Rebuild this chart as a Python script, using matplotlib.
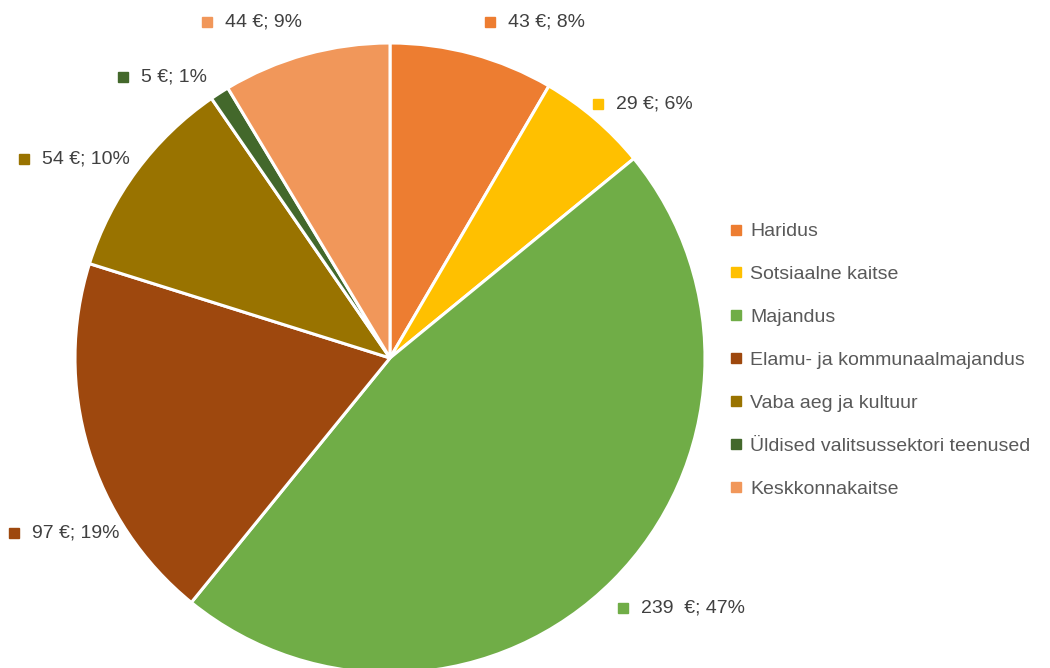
import matplotlib
matplotlib.use("Agg")
import matplotlib.pyplot as plt
from matplotlib.lines import Line2D

# data
categories = [
    "Haridus",
    "Sotsiaalne kaitse",
    "Majandus",
    "Elamu- ja kommunaalmajandus",
    "Vaba aeg ja kultuur",
    "Üldised valitsussektori teenused",
    "Keskkonnakaitse",
]
values = [43, 29, 239, 97, 54, 5, 44]
label_texts = ["43 €; 8%", "29 €; 6%", "239  €; 47%", "97 €; 19%",
               "54 €; 10%", "5 €; 1%", "44 €; 9%"]
colors = ["#ED7D31", "#FFC000", "#70AD47", "#9E480E",
          "#997300", "#43682B", "#F1975A"]

# layout of data labels (marker position, in pie-radius units)
label_pos = [(0.317, 1.067), (0.660, 0.806), (0.740, -0.794), (-1.194, -0.556),
             (-1.162, 0.632), (-0.848, 0.892), (-0.581, 1.067)]

plt.rcParams["font.family"] = ["Liberation Sans", "DejaVu Sans"]

W, H = 1050, 668
fig = plt.figure(figsize=(W / 100, H / 100), dpi=100)
cx, cy, r = 390, 358, 315
ax = fig.add_axes([(cx - r) / W, (H - cy - r) / H, 2 * r / W, 2 * r / H])

wedges, _ = ax.pie(values, colors=colors, startangle=90, counterclock=False,
                   radius=1, wedgeprops=dict(edgecolor="white", linewidth=2.2))
for w in wedges:
    w.set_clip_on(False)

ax.set_xlim(-1, 1)
ax.set_ylim(-1, 1)
ax.set_aspect("equal")
ax.axis("off")

txt_gap = 18 / r
for (x, y), t, c in zip(label_pos, label_texts, colors):
    ax.plot([x], [y], marker="s", markersize=6.5, color=c, clip_on=False)
    ax.text(x + txt_gap, y, t, ha="left", va="center", fontsize=14,
            color="#404040")

handles = [Line2D([0], [0], marker="s", linestyle="", markersize=6.8,
                  color=c) for c in colors]
leg = fig.legend(handles, categories, loc="upper left",
                 bbox_to_anchor=(722 / W, 1 - 215 / H), frameon=False,
                 fontsize=14, labelspacing=1.3, handlelength=0.6,
                 handletextpad=0.45, borderaxespad=0)
for t in leg.get_texts():
    t.set_color("#595959")

fig.savefig("out.png", dpi=100)
